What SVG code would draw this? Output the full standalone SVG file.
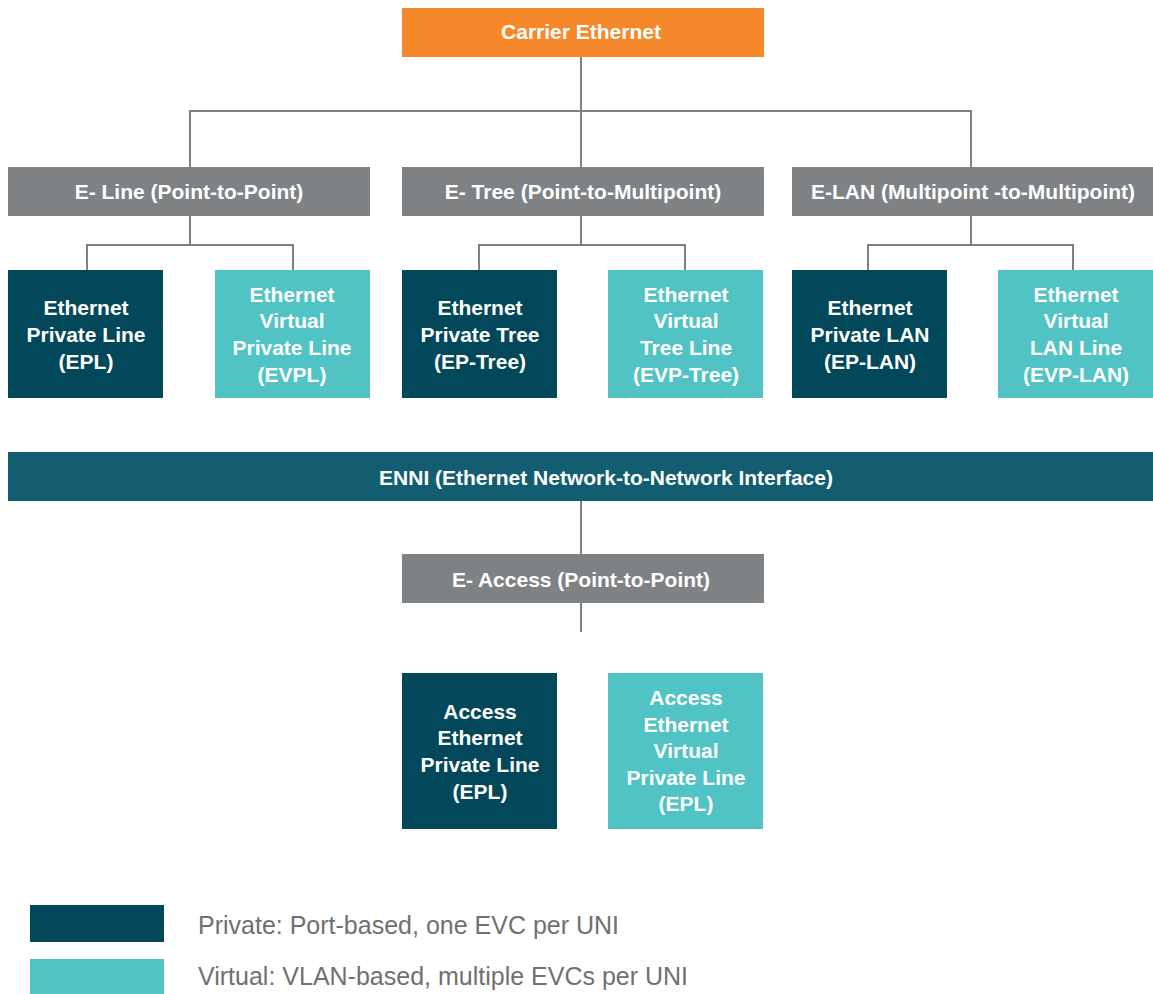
<svg xmlns="http://www.w3.org/2000/svg" width="1153" height="994" viewBox="0 0 1153 994">
<style>
.t{font-family:"Liberation Sans",Arial,sans-serif;font-weight:bold;font-size:21px;fill:#fff;text-anchor:middle}
.lg{font-family:"Liberation Sans",Arial,sans-serif;font-size:25px;fill:#707070}
.c{stroke:#808080;stroke-width:2;fill:none}
.gray{fill:#7F8285}
.dark{fill:#03475A}
.teal{fill:#52C3C4}
</style>
<rect width="1153" height="994" fill="#fff"/>
<g id="connectors">
<path class="c" d="M581 57V111M190 168V111H971V168M581 111V168"/>
<path class="c" d="M190 216V245M87 270V245H293V270"/>
<path class="c" d="M581 216V245M479 270V245H685V270"/>
<path class="c" d="M971 216V245M868 270V245H1073V270"/>
<path class="c" d="M581 501V554M581 603V632"/>
</g>
<g id="carrier"><rect x="402" y="8" width="362" height="49" fill="#F5882A"/><text class="t" x="581" y="39">Carrier Ethernet</text></g>
<g id="eline"><rect class="gray" x="8" y="167" width="362" height="49"/><text class="t" x="189" y="199">E- Line (Point-to-Point)</text></g>
<g id="etree"><rect class="gray" x="402" y="167" width="362" height="49"/><text class="t" x="583" y="199">E- Tree (Point-to-Multipoint)</text></g>
<g id="elan"><rect class="gray" x="792" y="167" width="361" height="49"/><text class="t" x="973" y="199">E-LAN (Multipoint -to-Multipoint)</text></g>
<g id="epl"><rect class="dark" x="8" y="270" width="155" height="128"/><text class="t" x="86" y="315">Ethernet</text><text class="t" x="86" y="342">Private Line</text><text class="t" x="86" y="369">(EPL)</text></g>
<g id="evpl"><rect class="teal" x="215" y="270" width="155" height="128"/><text class="t" x="292" y="302">Ethernet</text><text class="t" x="292" y="328">Virtual</text><text class="t" x="292" y="355">Private Line</text><text class="t" x="292" y="382">(EVPL)</text></g>
<g id="eptree"><rect class="dark" x="402" y="270" width="155" height="128"/><text class="t" x="480" y="315">Ethernet</text><text class="t" x="480" y="342">Private Tree</text><text class="t" x="480" y="369">(EP-Tree)</text></g>
<g id="evptree"><rect class="teal" x="608" y="270" width="155" height="128"/><text class="t" x="686" y="302">Ethernet</text><text class="t" x="686" y="328">Virtual</text><text class="t" x="686" y="355">Tree Line</text><text class="t" x="686" y="382">(EVP-Tree)</text></g>
<g id="eplan"><rect class="dark" x="792" y="270" width="155" height="128"/><text class="t" x="870" y="315">Ethernet</text><text class="t" x="870" y="342">Private LAN</text><text class="t" x="870" y="369">(EP-LAN)</text></g>
<g id="evplan"><rect class="teal" x="998" y="270" width="155" height="128"/><text class="t" x="1076" y="302">Ethernet</text><text class="t" x="1076" y="328">Virtual</text><text class="t" x="1076" y="355">LAN Line</text><text class="t" x="1076" y="382">(EVP-LAN)</text></g>
<g id="enni"><rect x="8" y="452" width="1145" height="49" fill="#135D70"/><text class="t" x="606" y="485">ENNI (Ethernet Network-to-Network Interface)</text></g>
<g id="eaccess"><rect class="gray" x="402" y="554" width="362" height="49"/><text class="t" x="581" y="587">E- Access (Point-to-Point)</text></g>
<g id="aepl"><rect class="dark" x="402" y="673" width="155" height="156"/><text class="t" x="480" y="719">Access</text><text class="t" x="480" y="745">Ethernet</text><text class="t" x="480" y="772">Private Line</text><text class="t" x="480" y="799">(EPL)</text></g>
<g id="aevpl"><rect class="teal" x="608" y="673" width="155" height="156"/><text class="t" x="686" y="705">Access</text><text class="t" x="686" y="732">Ethernet</text><text class="t" x="686" y="758">Virtual</text><text class="t" x="686" y="785">Private Line</text><text class="t" x="686" y="811">(EPL)</text></g>
<g id="legend">
<rect class="dark" x="30" y="905" width="134" height="37"/>
<text class="lg" x="198" y="934">Private: Port-based, one EVC per UNI</text>
<rect class="teal" x="30" y="959" width="134" height="35"/>
<text class="lg" x="198" y="985">Virtual: VLAN-based, multiple EVCs per UNI</text>
</g>
</svg>
